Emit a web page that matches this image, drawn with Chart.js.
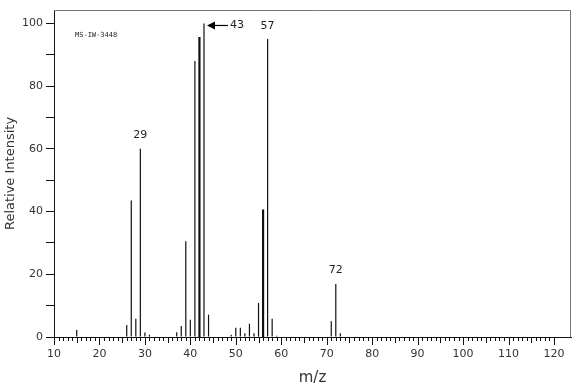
<!DOCTYPE html>
<html>
<head>
<meta charset="utf-8">
<script src="https://cdn.jsdelivr.net/npm/chart.js@4.4.0/dist/chart.umd.min.js"></script>
<style>
html, body { margin: 0; padding: 0; background: #fff; }
#wrap { width: 582px; height: 390px; position: relative; }
</style>
</head>
<body>
<div id="wrap"><canvas id="msChart"></canvas></div>
<script>
// peaks (m/z, relative intensity)
const massToCharge = [15, 26, 27, 28, 29, 30, 31, 37, 38, 39, 40, 41, 42, 43, 44,
                      49, 50, 51, 52, 53, 54, 55, 56, 57, 58, 59, 71, 72, 73];
const relIntensity = [2.2, 3.8, 43.5, 5.8, 60, 1.4, 0.7, 1.5, 3.5, 30.5, 5.5, 88, 95.5, 100, 7.1,
                      0.7, 2.9, 2.9, 1.2, 4.2, 1.2, 10.8, 40.5, 95, 5.8, 0.4, 5, 16.9, 1.2];
const labelledPeaks = [29, 57, 72];
const basePeak = 43;
const thickPeaks = [42, 56];
const xLabels = [10, 20, 30, 40, 50, 60, 70, 80, 90, 100, 110, 120];
const yLabels = [0, 20, 40, 60, 80, 100];
const spectrumId = 'MS-IW-3448';

Chart.defaults.font.family = "'DejaVu Sans', Verdana, sans-serif";
Chart.defaults.font.size = 11;
Chart.defaults.color = '#333';

function intensityOf(mz) {
    return relIntensity[massToCharge.indexOf(mz)];
}

// frame, minor x ticks and peak annotations
const spectrumDecor = {
    id: 'spectrumDecor',
    afterDraw(chart) {
        const { ctx, chartArea, scales } = chart;
        const x = scales.x, y = scales.y;
        ctx.save();

        // grey frame on top and right
        ctx.strokeStyle = '#777';
        ctx.lineWidth = 1;
        ctx.beginPath();
        ctx.moveTo(chartArea.left, chartArea.top + 0.5);
        ctx.lineTo(chartArea.right - 0.5, chartArea.top + 0.5);
        ctx.lineTo(chartArea.right - 0.5, chartArea.bottom);
        ctx.stroke();

        // x ticks every unit, longer every 5 and 10
        ctx.strokeStyle = '#111';
        ctx.beginPath();
        for (let m = xLabels[0]; m <= xLabels[xLabels.length - 1]; m++) {
            const px = Math.round(x.getPixelForValue(m)) + 0.5;
            const len = m % 10 === 0 ? 8 : (m % 5 === 0 ? 6 : 4);
            ctx.moveTo(px, chartArea.bottom);
            ctx.lineTo(px, chartArea.bottom + len);
        }
        ctx.stroke();

        // peak labels
        ctx.fillStyle = '#222';
        ctx.font = "11px 'DejaVu Sans', Verdana, sans-serif";
        ctx.textAlign = 'center';
        ctx.textBaseline = 'bottom';
        labelledPeaks.forEach(mz => {
            ctx.fillText(String(mz), x.getPixelForValue(mz), y.getPixelForValue(intensityOf(mz)) - 8);
        });

        // base peak arrow
        const bx = x.getPixelForValue(basePeak);
        const by = y.getPixelForValue(intensityOf(basePeak)) + 2;
        ctx.strokeStyle = '#000';
        ctx.lineWidth = 1.2;
        ctx.beginPath();
        ctx.moveTo(bx + 8, by);
        ctx.lineTo(bx + 24, by);
        ctx.stroke();
        ctx.beginPath();
        ctx.moveTo(bx + 3, by);
        ctx.lineTo(bx + 11, by - 4);
        ctx.lineTo(bx + 11, by + 4);
        ctx.closePath();
        ctx.fillStyle = '#000';
        ctx.fill();
        ctx.fillStyle = '#222';
        ctx.textAlign = 'left';
        ctx.textBaseline = 'middle';
        ctx.fillText(String(basePeak), bx + 26, by);

        // spectrum id
        ctx.font = "7px 'DejaVu Sans Mono', monospace";
        ctx.textAlign = 'left';
        ctx.fillText(spectrumId, chartArea.left + 21, chartArea.top + 25);

        ctx.restore();
    }
};

const chart = new Chart(document.getElementById('msChart'), {
    type: 'bar',
    data: {
        datasets: [{
            label: 'Relative Intensity',
            data: massToCharge.map((m, i) => ({ x: m, y: relIntensity[i] })),
            backgroundColor: '#111',
            borderWidth: 0,
            barThickness: 1,
            inflateAmount: ctx => (ctx.raw && thickPeaks.includes(ctx.raw.x) ? 0.6 : 0.1)
        }]
    },
    options: {
        responsive: true,
        maintainAspectRatio: false,
        animation: false,
        layout: { padding: { top: 10, right: 11, left: 0, bottom: 0 } },
        plugins: {
            legend: { display: false },
            tooltip: { enabled: false }
        },
        scales: {
            x: {
                type: 'linear',
                offset: false,
                min: 10,
                max: 123.75,
                afterBuildTicks: s => { s.ticks = xLabels.map(v => ({ value: v })); },
                afterFit: s => { s.height = 53; },
                ticks: {
                    autoSkip: false,
                    maxRotation: 0,
                    padding: 11,
                    color: '#333',
                    font: { size: 11 }
                },
                grid: { drawOnChartArea: false, drawTicks: false, offset: false },
                border: { color: '#111', width: 1 },
                title: {
                    display: true,
                    text: 'm/z',
                    font: { size: 15 },
                    color: '#333',
                    padding: { top: 0, bottom: 3 }
                }
            },
            y: {
                min: 0,
                max: 104.3,
                afterBuildTicks: s => {
                    const t = [];
                    for (let v = 0; v <= 100; v += 10) t.push({ value: v });
                    s.ticks = t;
                },
                afterFit: s => { s.width = 54; },
                ticks: {
                    padding: 3,
                    color: '#333',
                    font: { size: 11 },
                    callback: v => (yLabels.includes(v) ? String(v) : '')
                },
                grid: { drawOnChartArea: false, tickLength: 8, color: '#111' },
                border: { color: '#111', width: 1 },
                title: {
                    display: true,
                    text: 'Relative Intensity',
                    font: { size: 13 },
                    color: '#333',
                    padding: { top: 3, bottom: 0 }
                }
            }
        }
    },
    plugins: [spectrumDecor]
});
</script>
</body>
</html>
